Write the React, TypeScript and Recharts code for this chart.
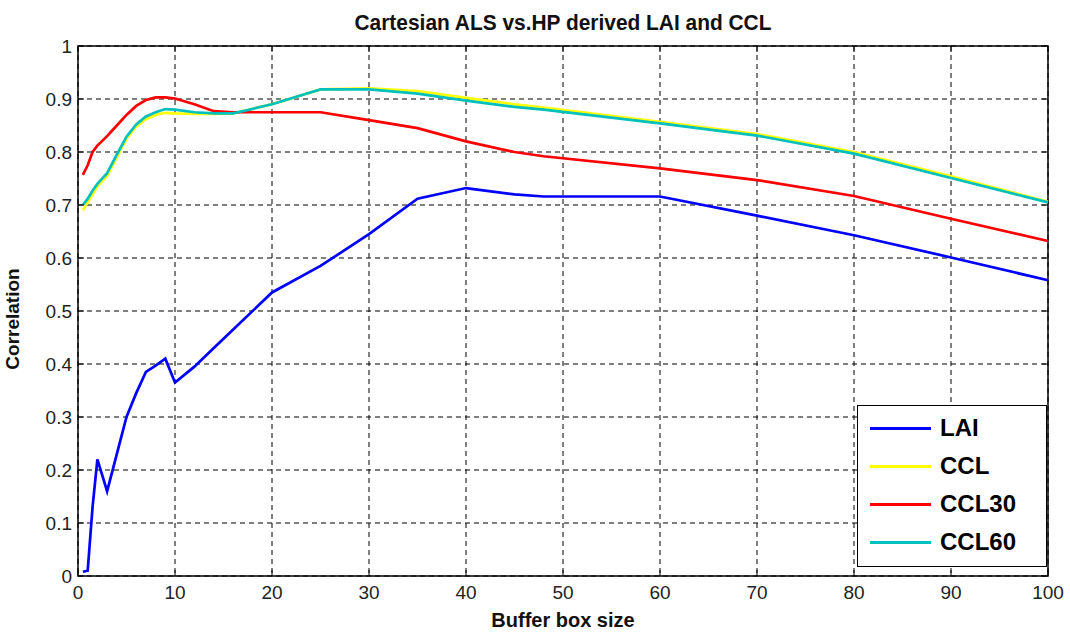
import React from "react";
import {
  LineChart,
  Line,
  XAxis,
  YAxis,
  CartesianGrid,
  ReferenceArea,
} from "recharts";

// buffer box sizes shared by every series
const bufferSizes = [
  0.5, 1, 1.5, 2, 3, 4, 5, 6, 7, 8, 9, 10, 12, 14, 16, 20, 25, 30, 35, 40, 45,
  48, 60, 70, 80, 90, 100,
];

const lai = [
  0.008, 0.01, 0.13, 0.22, 0.16, 0.23, 0.3, 0.345, 0.385, 0.397, 0.41, 0.365,
  0.395, 0.43, 0.465, 0.535, 0.585, 0.645, 0.712, 0.732, 0.72, 0.716, 0.716,
  0.68, 0.643, 0.601, 0.558,
];

const ccl = [
  0.69, 0.705, 0.72, 0.735, 0.755, 0.79, 0.825, 0.848, 0.862, 0.87, 0.874,
  0.873, 0.872, 0.872, 0.873, 0.89, 0.918, 0.92, 0.915, 0.902, 0.89, 0.884,
  0.857, 0.834, 0.8, 0.754, 0.706,
];

const ccl30 = [
  0.757, 0.775, 0.8, 0.812, 0.83, 0.85, 0.87, 0.887, 0.898, 0.903, 0.903,
  0.901, 0.89, 0.877, 0.875, 0.875, 0.875, 0.86, 0.845, 0.82, 0.8, 0.792,
  0.769, 0.747, 0.717, 0.674, 0.632,
];

const ccl60 = [
  0.7, 0.712, 0.727, 0.74, 0.76, 0.795, 0.829, 0.852, 0.867, 0.875, 0.881,
  0.88, 0.875, 0.873, 0.873, 0.89, 0.918, 0.918, 0.91, 0.897, 0.885, 0.88,
  0.854, 0.831, 0.797, 0.751, 0.705,
];

const xTicks = [0, 10, 20, 30, 40, 50, 60, 70, 80, 90, 100];
const yTicks = [0, 0.1, 0.2, 0.3, 0.4, 0.5, 0.6, 0.7, 0.8, 0.9, 1];
const yTickLabels = ["0", "0.1", "0.2", "0.3", "0.4", "0.5", "0.6", "0.7", "0.8", "0.9", "1"];

const data = bufferSizes.map((x, i) => ({
  x,
  LAI: lai[i],
  CCL: ccl[i],
  CCL30: ccl30[i],
  CCL60: ccl60[i],
}));

const series = [
  { key: "LAI", color: "#0000ff" },
  { key: "CCL", color: "#ffff00" },
  { key: "CCL30", color: "#ff0000" },
  { key: "CCL60", color: "#00bfbf" },
];

// plot box edges (pixels)
const PLOT_TOP = 46;
const PLOT_BOTTOM = 576;
const PLOT_LEFT = 78;
const PLOT_RIGHT = 1048;

const font = "'Liberation Sans', Arial, sans-serif";

function XTick(props: any) {
  const { x, payload } = props;
  return (
    <g>
      <line x1={x} x2={x} y1={PLOT_BOTTOM} y2={PLOT_BOTTOM - 6} stroke="#000" />
      <line x1={x} x2={x} y1={PLOT_TOP} y2={PLOT_TOP + 6} stroke="#000" />
      <text
        x={x}
        y={PLOT_BOTTOM + 23}
        textAnchor="middle"
        fontSize={19}
        fontFamily={font}
        fill="#222"
      >
        {payload.value}
      </text>
    </g>
  );
}

function YTick(props: any) {
  const { y, payload, index } = props;
  return (
    <g>
      <line x1={PLOT_LEFT} x2={PLOT_LEFT + 6} y1={y} y2={y} stroke="#000" />
      <line x1={PLOT_RIGHT} x2={PLOT_RIGHT - 6} y1={y} y2={y} stroke="#000" />
      <text
        x={PLOT_LEFT - 6}
        y={y + 7}
        textAnchor="end"
        fontSize={19}
        fontFamily={font}
        fill="#222"
      >
        {yTickLabels[index] ?? payload.value}
      </text>
    </g>
  );
}

function LegendBox() {
  return (
    <div
      style={{
        position: "absolute",
        left: 857,
        top: 405,
        width: 190,
        height: 162,
        border: "1px solid #000",
        background: "#fff",
        boxSizing: "border-box",
        paddingTop: 3,
      }}
    >
      {series.map((s) => (
        <div
          key={s.key}
          style={{ display: "flex", alignItems: "center", height: 38 }}
        >
          <div
            style={{
              width: 61,
              height: 3,
              background: s.color,
              marginLeft: 12,
              marginRight: 9,
            }}
          />
          <span
            style={{
              fontFamily: font,
              fontWeight: "bold",
              fontSize: 24,
              color: "#000",
            }}
          >
            {s.key}
          </span>
        </div>
      ))}
    </div>
  );
}

export default function App() {
  return (
    <div
      style={{
        position: "absolute",
        left: 0,
        top: 0,
        width: 1070,
        height: 632,
        background: "#fff",
      }}
    >
      <div
        style={{
          position: "absolute",
          left: 0,
          width: 1126,
          top: 9,
          textAlign: "center",
          fontFamily: font,
          fontWeight: "bold",
          fontSize: 22,
          lineHeight: "28px",
          transform: "scaleX(0.95)",
          transformOrigin: "563px 0",
          color: "#111",
        }}
      >
        Cartesian ALS vs.HP derived LAI and CCL
      </div>
      <LineChart
        width={1070}
        height={632}
        data={data}
        margin={{ top: PLOT_TOP, right: 1070 - PLOT_RIGHT, bottom: 0, left: 0 }}
      >
        <CartesianGrid stroke="#000" strokeDasharray="5 4" />
        <XAxis
          dataKey="x"
          type="number"
          domain={[0, 100]}
          ticks={xTicks}
          height={632 - PLOT_BOTTOM}
          axisLine={false}
          tickLine={false}
          tick={<XTick />}
          label={{
            value: "Buffer box size",
            position: "insideBottom",
            offset: 5,
            style: {
              fontFamily: font,
              fontWeight: "bold",
              fontSize: 20,
              fill: "#111",
            },
          }}
        />
        <YAxis
          type="number"
          domain={[0, 1]}
          ticks={yTicks}
          width={PLOT_LEFT}
          axisLine={false}
          tickLine={false}
          tick={<YTick />}
          label={{
            value: "Correlation",
            angle: -90,
            position: "insideLeft",
            offset: 12,
            dy: 8,
            style: {
              textAnchor: "middle",
              fontFamily: font,
              fontWeight: "bold",
              fontSize: 19,
              fill: "#111",
            },
          }}
        />
        <ReferenceArea
          x1={0}
          x2={100}
          y1={0}
          y2={1}
          fill="none"
          stroke="#000"
          strokeWidth={1.5}
          ifOverflow="visible"
        />
        {series.map((s) => (
          <Line
            key={s.key}
            dataKey={s.key}
            type="linear"
            stroke={s.color}
            strokeWidth={2.7}
            dot={false}
            isAnimationActive={false}
          />
        ))}
      </LineChart>
      <LegendBox />
    </div>
  );
}
